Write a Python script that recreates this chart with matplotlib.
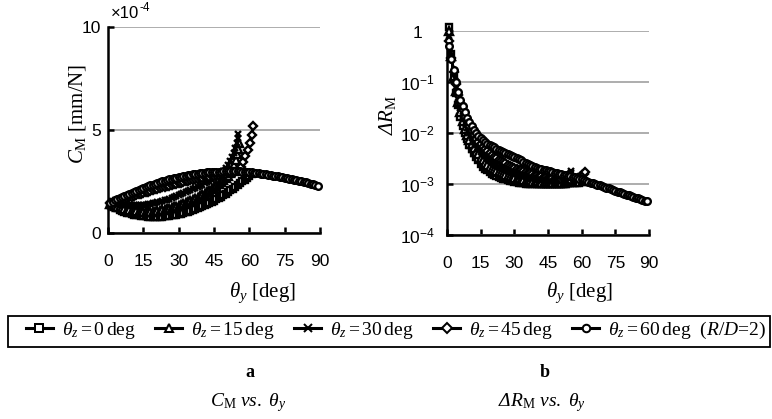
import matplotlib
matplotlib.use('Agg')
import matplotlib.pyplot as plt
from matplotlib.lines import Line2D
from matplotlib.patches import Rectangle
from matplotlib.ticker import FixedLocator, FixedFormatter, NullLocator

plt.rcParams['font.family'] = ['Liberation Serif', 'DejaVu Serif']
plt.rcParams['mathtext.fontset'] = 'custom'
plt.rcParams['mathtext.rm'] = 'Liberation Serif'
plt.rcParams['mathtext.it'] = 'Liberation Serif:italic'
plt.rcParams['mathtext.bf'] = 'Liberation Serif:bold'
plt.rcParams['mathtext.sf'] = 'Liberation Sans'
# italic slot without the upright-greek rule, used for the Delta
plt.rcParams['mathtext.cal'] = 'Liberation Serif:italic'

fig_w_px = 772
fig_h_px = 419

# theta_z = 0 deg (squares), theta_y sampled every degree
theta_y_0 = list(range(1, 62))
cm_0 = [1.38, 1.31, 1.25, 1.19, 1.13, 1.08, 1.03, 0.99, 0.95, 0.92,
        0.89, 0.87, 0.85, 0.83, 0.82, 0.81, 0.80, 0.79, 0.79, 0.79,
        0.79, 0.79, 0.80, 0.81, 0.82, 0.83, 0.85, 0.87, 0.89, 0.91,
        0.94, 0.97, 1.00, 1.03, 1.07, 1.11, 1.15, 1.19, 1.24, 1.29,
        1.34, 1.39, 1.45, 1.51, 1.57, 1.63, 1.70, 1.77, 1.84, 1.91,
        1.99, 2.07, 2.15, 2.23, 2.32, 2.41, 2.50, 2.59, 2.69, 2.78,
        2.88]
dr_0 = [1.2, 0.35, 0.12, 0.06, 0.035, 0.021, 0.014, 0.010, 0.0075, 0.0059,
        0.0048, 0.0040, 0.0034, 0.0029, 0.0025, 0.0022, 0.0020, 0.00185, 0.0017, 0.0016,
        0.0015, 0.00143, 0.00137, 0.00132, 0.00127, 0.00123, 0.00120, 0.00117, 0.00114, 0.00111,
        0.00109, 0.00107, 0.00105, 0.00103, 0.00102, 0.00101, 0.00100, 0.00099, 0.00099, 0.00098,
        0.00098, 0.00098, 0.00098, 0.00098, 0.00098, 0.00099, 0.00099, 0.00100, 0.00100, 0.00101,
        0.00101, 0.00102, 0.00102, 0.00103, 0.00103, 0.00104, 0.00104, 0.00105, 0.00106, 0.00108,
        0.00110]

# theta_z = 15 deg (triangles)
theta_y_15 = list(range(1, 53)) + [53, 53.7, 54.3, 54.9, 55.4, 55.8]
cm_15 = [1.40, 1.36, 1.32, 1.28, 1.24, 1.20, 1.17, 1.14, 1.11, 1.09,
         1.07, 1.05, 1.04, 1.03, 1.02, 1.02, 1.02, 1.02, 1.03, 1.04,
         1.06, 1.08, 1.10, 1.12, 1.15, 1.18, 1.21, 1.24, 1.28, 1.32,
         1.36, 1.40, 1.45, 1.50, 1.55, 1.60, 1.66, 1.72, 1.78, 1.84,
         1.91, 1.98, 2.05, 2.12, 2.20, 2.28, 2.37, 2.46, 2.56, 2.67,
         2.78, 2.90,
         3.05, 3.30, 3.55, 3.85, 4.10, 4.35]
dr_15 = [1.0, 0.32, 0.13, 0.068, 0.040, 0.026, 0.017, 0.012, 0.0092, 0.0074,
         0.0060, 0.0050, 0.0043, 0.0038, 0.0033, 0.0029, 0.0026, 0.0024, 0.0022, 0.0020,
         0.0019, 0.0018, 0.0017, 0.00162, 0.00155, 0.00149, 0.00143, 0.00138, 0.00134, 0.00130,
         0.00127, 0.00124, 0.00121, 0.00118, 0.00116, 0.00114, 0.00112, 0.00110, 0.00109, 0.00108,
         0.00107, 0.00106, 0.00105, 0.00104, 0.00104, 0.00104, 0.00104, 0.00104, 0.00104, 0.00104,
         0.00105, 0.00106,
         0.00108, 0.00111, 0.00115, 0.00120, 0.00127, 0.00136]

# theta_z = 30 deg (crosses)
theta_y_30 = list(range(1, 50)) + [50, 51, 51.8, 52.6, 53.3, 54.0, 54.6, 55.1, 55.4]
cm_30 = [1.43, 1.41, 1.40, 1.38, 1.37, 1.36, 1.35, 1.34, 1.34, 1.34,
         1.34, 1.34, 1.35, 1.36, 1.37, 1.38, 1.40, 1.42, 1.44, 1.46,
         1.49, 1.52, 1.55, 1.58, 1.62, 1.66, 1.70, 1.74, 1.79, 1.83,
         1.88, 1.93, 1.98, 2.03, 2.08, 2.13, 2.19, 2.24, 2.30, 2.35,
         2.41, 2.47, 2.53, 2.59, 2.66, 2.74, 2.82, 2.91, 3.02,
         3.14, 3.30, 3.48, 3.68, 3.90, 4.12, 4.38, 4.62, 4.82]
dr_30 = [0.8, 0.30, 0.15, 0.08, 0.048, 0.031, 0.022, 0.016, 0.0125, 0.0099,
         0.0080, 0.0067, 0.0057, 0.0049, 0.0043, 0.0039, 0.0035, 0.0032, 0.0029, 0.0027,
         0.0025, 0.00235, 0.0022, 0.0021, 0.0020, 0.0019, 0.00183, 0.00175, 0.00168, 0.00162,
         0.00156, 0.00151, 0.00146, 0.00142, 0.00138, 0.00134, 0.00131, 0.00128, 0.00126, 0.00124,
         0.00122, 0.00120, 0.00119, 0.00118, 0.00117, 0.00117, 0.00117, 0.00118, 0.00120,
         0.00122, 0.00125, 0.00129, 0.00135, 0.00142, 0.00150, 0.00159, 0.00168, 0.00176]

# theta_z = 45 deg (diamonds)
theta_y_45 = list(range(1, 56)) + [56.3, 57.2, 58.2, 59.3, 60.3, 61.0, 61.7]
cm_45 = [1.45, 1.49, 1.52, 1.56, 1.59, 1.63, 1.66, 1.70, 1.73, 1.77,
         1.80, 1.84, 1.87, 1.91, 1.94, 1.98, 2.01, 2.05, 2.08, 2.12,
         2.15, 2.18, 2.21, 2.24, 2.27, 2.30, 2.33, 2.36, 2.39, 2.42,
         2.45, 2.48, 2.50, 2.53, 2.55, 2.58, 2.60, 2.63, 2.65, 2.68,
         2.70, 2.72, 2.74, 2.76, 2.78, 2.80, 2.82, 2.84, 2.86, 2.88,
         2.90, 2.92, 2.95, 2.98, 3.02,
         3.20, 3.46, 3.74, 4.03, 4.38, 4.76, 5.19]
dr_45 = [0.65, 0.30, 0.16, 0.09, 0.055, 0.038, 0.028, 0.021, 0.017, 0.0135,
         0.0110, 0.0092, 0.0078, 0.0068, 0.0060, 0.0053, 0.0048, 0.0044, 0.0040, 0.0037,
         0.0034, 0.0032, 0.0030, 0.00285, 0.0027, 0.00255, 0.0024, 0.0023, 0.0022, 0.0021,
         0.0020, 0.00192, 0.00185, 0.00178, 0.00172, 0.00166, 0.00161, 0.00156, 0.00152, 0.00148,
         0.00145, 0.00142, 0.00139, 0.00136, 0.00134, 0.00132, 0.00130, 0.00128, 0.00127, 0.00125,
         0.00124, 0.00123, 0.00122, 0.00121, 0.00121,
         0.00123, 0.00126, 0.00131, 0.00138, 0.00147, 0.00158, 0.00170]

# theta_z = 60 deg (circles)
theta_y_60 = list(range(1, 90))
cm_60 = [1.47, 1.52, 1.58, 1.63, 1.69, 1.74, 1.80, 1.85, 1.90, 1.95,
         2.00, 2.04, 2.09, 2.13, 2.18, 2.22, 2.27, 2.31, 2.35, 2.39,
         2.43, 2.46, 2.50, 2.53, 2.57, 2.60, 2.63, 2.66, 2.69, 2.71,
         2.74, 2.76, 2.79, 2.81, 2.83, 2.85, 2.87, 2.88, 2.90, 2.91,
         2.93, 2.94, 2.95, 2.96, 2.97, 2.97, 2.98, 2.98, 2.99, 2.99,
         3.00, 3.00, 3.00, 3.00, 2.99, 2.99, 2.98, 2.97, 2.96, 2.95,
         2.94, 2.92, 2.91, 2.89, 2.88, 2.86, 2.85, 2.83, 2.81, 2.79,
         2.77, 2.75, 2.73, 2.71, 2.69, 2.66, 2.64, 2.61, 2.59, 2.56,
         2.54, 2.51, 2.49, 2.46, 2.43, 2.40, 2.37, 2.34, 2.30]
dr_60 = [0.50, 0.28, 0.17, 0.10, 0.063, 0.045, 0.034, 0.026, 0.020, 0.0165,
         0.0135, 0.0114, 0.0098, 0.0087, 0.0079, 0.0072, 0.0066, 0.0062, 0.0058, 0.0055,
         0.0052, 0.0049, 0.0047, 0.0045, 0.0043, 0.0041, 0.0039, 0.0037, 0.0035, 0.00335,
         0.0032, 0.00305, 0.0029, 0.00275, 0.0026, 0.0025, 0.0024, 0.0023, 0.0022, 0.0021,
         0.0020, 0.00195, 0.0019, 0.00185, 0.00181, 0.00176, 0.00172, 0.00168, 0.00164, 0.00160,
         0.00157, 0.00153, 0.00150, 0.00146, 0.00143, 0.00139, 0.00135, 0.00131, 0.00127, 0.00123,
         0.00119, 0.00115, 0.00111, 0.00107, 0.00104, 0.00100, 0.00097, 0.00094, 0.00091, 0.00088,
         0.00085, 0.00082, 0.00079, 0.00076, 0.00074, 0.00071, 0.00069, 0.00067, 0.00065, 0.00062,
         0.00060, 0.00058, 0.00056, 0.00054, 0.00053, 0.00051, 0.00049, 0.00047, 0.00046]

legend_labels = [r'$\theta_z=0\,\mathrm{deg}$',
                 r'$\theta_z=15\,\mathrm{deg}$',
                 r'$\theta_z=30\,\mathrm{deg}$',
                 r'$\theta_z=45\,\mathrm{deg}$',
                 r'$\theta_z=60\,\mathrm{deg}$  ($R$/$D$=2)']
x_ticks = [0, 15, 30, 45, 60, 75, 90]
cm_ticks = [0, 5, 10]
dr_ticks = [1e-4, 1e-3, 1e-2, 1e-1, 1]
dr_tick_labels = [r'$\mathsf{10^{-4}}$', r'$\mathsf{10^{-3}}$', r'$\mathsf{10^{-2}}$',
                  r'$\mathsf{10^{-1}}$', r'$\mathsf{1}$']

markers = ['s', '^', 'x', 'D', 'o']
marker_sizes = [4.8, 5.6, 5.0, 4.4, 4.8]
grid_color = '#a0a0a0'


def fx(px):
    return px / fig_w_px


def fy(py):
    return 1 - py / fig_h_px


def draw_series(ax, theta, values, marker, size):
    ax.plot(theta, values, color='black', lw=2, marker=marker, ms=size,
            mfc='white', mec='black', mew=1.7, clip_on=False, zorder=3)


def style_axes(ax):
    for side in ['top', 'right']:
        ax.spines[side].set_visible(False)
    for side in ['left', 'bottom']:
        ax.spines[side].set_linewidth(1.8)
    ax.set_xlim(0, 90)
    ax.xaxis.set_major_locator(FixedLocator(x_ticks))
    ax.tick_params(direction='in', length=4, width=1.8, labelsize=12.5,
                   labelfontfamily='Liberation Sans')
    ax.tick_params(axis='x', pad=15)
    ax.yaxis.grid(True, color=grid_color, lw=1.2)
    ax.set_axisbelow(True)


def draw_cm_chart(fig):
    ax = fig.add_axes([fx(108), fy(233), fx(212), 206 / fig_h_px])
    style_axes(ax)
    ax.set_ylim(0, 10)
    ax.yaxis.set_major_locator(FixedLocator(cm_ticks))
    ax.tick_params(axis='y', pad=5)
    all_theta = [theta_y_0, theta_y_15, theta_y_30, theta_y_45, theta_y_60]
    all_cm = [cm_0, cm_15, cm_30, cm_45, cm_60]
    for theta, values, marker, size in zip(all_theta, all_cm, markers, marker_sizes):
        draw_series(ax, theta, values, marker, size)
    fig.text(fx(111), fy(14), '×10', family='Liberation Sans', fontsize=12, va='center')
    fig.text(fx(140), fy(8), '-4', family='Liberation Sans', fontsize=8.5, va='center')
    fig.text(fx(77), fy(114), r'$C_\mathrm{M}$ [mm/N]', fontsize=15, rotation=90,
             ha='center', va='center')
    fig.text(fx(262), fy(293), r'$\theta_y$ [deg]', fontsize=15, ha='center', va='center')


def draw_dr_chart(fig):
    ax = fig.add_axes([fx(447), fy(235), fx(202), 204 / fig_h_px])
    style_axes(ax)
    ax.set_yscale('log')
    ax.set_ylim(1e-4, 1)
    ax.yaxis.set_major_locator(FixedLocator(dr_ticks))
    ax.yaxis.set_major_formatter(FixedFormatter(dr_tick_labels))
    ax.yaxis.set_minor_locator(NullLocator())
    ax.tick_params(axis='y', pad=21)
    for lbl in ax.get_yticklabels():
        lbl.set_horizontalalignment('center')
    all_theta = [theta_y_0, theta_y_15, theta_y_30, theta_y_45, theta_y_60]
    all_dr = [dr_0, dr_15, dr_30, dr_45, dr_60]
    for theta, values, marker, size in zip(all_theta, all_dr, markers, marker_sizes):
        draw_series(ax, theta, values, marker, size)
    fig.text(fx(387), fy(115), r'$\mathcal{\Delta R}_\mathrm{M}$', fontsize=15, rotation=90,
             ha='center', va='center')
    fig.text(fx(579), fy(293), r'$\theta_y$ [deg]', fontsize=15, ha='center', va='center')


def draw_legend_and_captions(fig):
    # frame of the shared legend, the entries sit inside it with a wider left margin
    fig.patches.append(Rectangle((fx(8), fy(347)), fx(762), 31 / fig_h_px,
                                 transform=fig.transFigure, fill=False,
                                 edgecolor='black', lw=1.3))
    handles = [Line2D([], [], color='black', lw=2.2, marker=m, ms=s + 0.6, mfc='white',
                      mec='black', mew=1.45) for m, s in zip(markers, marker_sizes)]
    fig.legend(handles, legend_labels, loc='lower left',
               bbox_to_anchor=(fx(20), fy(347), fx(752), 31 / fig_h_px),
               mode='expand', ncol=5, frameon=False, fontsize=14, handlelength=1.4,
               handletextpad=0.45, borderaxespad=0, borderpad=0.3,
               columnspacing=0.4)
    fig.text(fx(250), fy(372), 'a', fontsize=13, fontweight='bold', ha='center', va='center')
    fig.text(fx(545), fy(372), 'b', fontsize=13, fontweight='bold', ha='center', va='center')
    fig.text(fx(248), fy(403), r'$C_\mathrm{M}\ \mathit{vs.}\ \theta_y$', fontsize=14,
             ha='center', va='center')
    fig.text(fx(542), fy(403), r'$\mathcal{\Delta R}_\mathrm{M}\ \mathit{vs.}\ \theta_y$',
             fontsize=14, ha='center', va='center')


def run_program():
    fig = plt.figure(figsize=(fig_w_px / 100, fig_h_px / 100), dpi=100)
    draw_cm_chart(fig)
    draw_dr_chart(fig)
    draw_legend_and_captions(fig)
    fig.savefig('out.png', dpi=100)


run_program()
